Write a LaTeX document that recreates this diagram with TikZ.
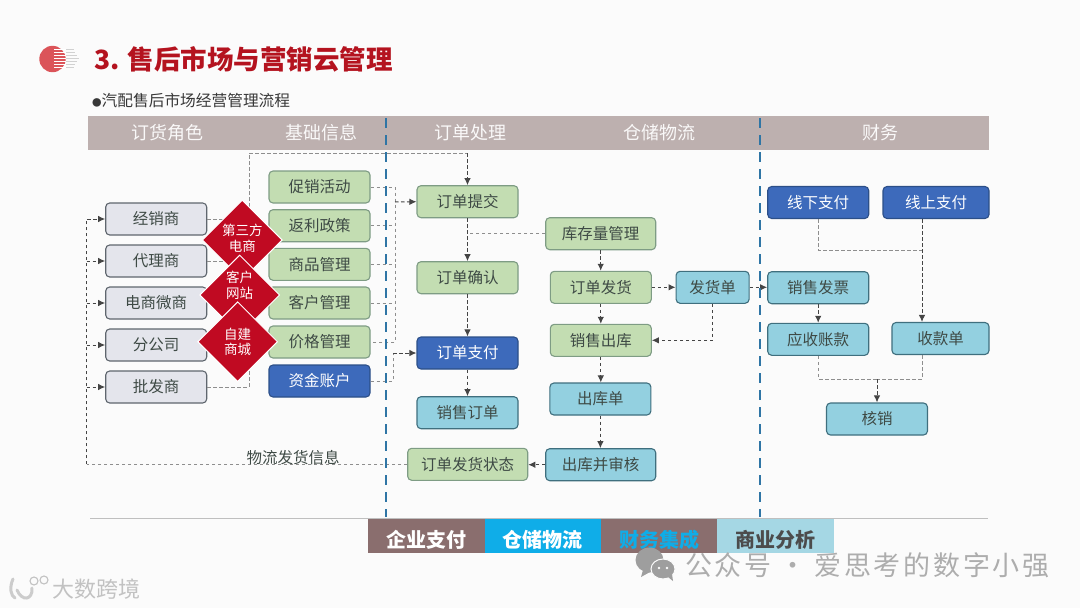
\documentclass[tikz,border=0pt]{standalone}
\usepackage{fontspec}
\setmainfont{Noto Sans CJK SC}
\usetikzlibrary{shapes.geometric,arrows.meta,calc}
\definecolor{bgc}{HTML}{FBFBFB}
\definecolor{bandc}{HTML}{BDB0AF}
\definecolor{greenf}{HTML}{C3DDB2}
\definecolor{greend}{HTML}{7E9C84}
\definecolor{grayf}{HTML}{E4E5EC}
\definecolor{grayd}{HTML}{5F666E}
\definecolor{bluef}{HTML}{3D6ABB}
\definecolor{blued}{HTML}{2C4F88}
\definecolor{cyanf}{HTML}{93D0E0}
\definecolor{cyand}{HTML}{3F6F7E}
\definecolor{redd}{HTML}{C00A22}
\definecolor{titlec}{HTML}{B4131F}
\definecolor{logoc}{HTML}{DB5459}
\definecolor{txt}{HTML}{3E4A45}
\definecolor{lanec}{HTML}{2F75A5}
\definecolor{linec}{HTML}{454545}
\definecolor{lineg}{HTML}{8E8E8E}
\definecolor{tabb}{HTML}{8A6E6E}
\definecolor{tabc}{HTML}{0FADE8}
\definecolor{tabl}{HTML}{A5D7E4}
\definecolor{wm}{HTML}{ADADAD}
\tikzset{
  boxbase/.style={rounded corners=4pt,line width=1.1pt,inner sep=0pt,minimum height=32pt,font=\fontsize{15.5}{18}\selectfont,text=txt},
  greenbox/.style={boxbase,fill=greenf,draw=greend,minimum width=101pt},
  graybox/.style={boxbase,fill=grayf,draw=grayd,minimum width=101pt},
  bluebox/.style={boxbase,fill=bluef,draw=blued,minimum width=101pt,text=white},
  cyanbox/.style={boxbase,fill=cyanf,draw=cyand,minimum width=101pt},
  gemtext/.style={text=white,align=center,inner sep=0pt,font=\fontsize{13.5}{15.5}\selectfont},
  gem/.style={gemtext,diamond,aspect=1,fill=redd,draw=white,line width=1pt,minimum width=80pt,minimum height=80pt},
  headtext/.style={text=white!92!bandc,font=\fontsize{18}{20}\selectfont,inner sep=0pt},
  tab/.style={minimum width=116.5pt,minimum height=33.7pt,inner sep=0pt,text height=24pt,text depth=2pt,font=\bfseries\fontsize{20}{22}\selectfont},
  flow/.style={line width=1pt,draw=linec,dash pattern=on 3.5pt off 2.5pt,-{Latex[length=7pt,width=6.5pt]}},
  plainflow/.style={line width=1pt,draw=lineg,dash pattern=on 3.5pt off 2.5pt},
  lane/.style={line width=2pt,draw=lanec,dash pattern=on 10pt off 7pt},
}
\begin{document}
\begin{tikzpicture}[x=1pt,y=-1pt]
\path[use as bounding box,fill=bgc] (0,0) rectangle (1080,608);
% logo
\fill[logoc] (52.5,59) circle (13.2);
\foreach \yy in {49,52,55,58,61,64,67}{
  \draw[white,line width=.9pt] (54,{\yy+.5}) -- (66,{\yy+.5});
  \draw[black!18,line width=.8pt] (66,{\yy+.5}) -- ({79-abs(\yy-58)*.6},{\yy+.5});
}
% title
\node[anchor=west,inner sep=0pt,text=titlec,font=\bfseries\fontsize{26.5}{30}\selectfont] (title) at (94,59) {3. 售后市场与营销云管理};
\node[anchor=west,inner sep=0pt,text=black!78,font=\fontsize{15.7}{18}\selectfont] (sub) at (92,100) {{\fontsize{9.5}{10}\selectfont ●}汽配售后市场经营管理流程};
% band
\node[fill=bandc,minimum width=901pt,minimum height=34pt,inner sep=0pt,anchor=north west] (band) at (88,116) {};
\node[headtext] (h1) at (167,133) {订货角色};
\node[headtext] (h2) at (321,133) {基础信息};
\node[headtext] (h3) at (470,133) {订单处理};
\node[headtext] (h4) at (659,133) {仓储物流};
\node[headtext] (h5) at (880,133) {财务};
% boxes left
\node[graybox] (r1) at (156.2,219) {经销商};
\node[graybox] (r2) at (156.2,261) {代理商};
\node[graybox] (r3) at (156.2,303) {电商微商};
\node[graybox] (r4) at (156.2,345) {分公司};
\node[graybox] (r5) at (156.2,387) {批发商};
\node[greenbox] (b1) at (319.5,187) {促销活动};
\node[greenbox] (b2) at (319.5,225.7) {返利政策};
\node[greenbox] (b3) at (319.5,264.3) {商品管理};
\node[greenbox] (b4) at (319.5,303) {客户管理};
\node[greenbox] (b5) at (319.5,342) {价格管理};
\node[bluebox] (b6) at (319.5,381) {资金账户};
% order column
\node[greenbox] (o1) at (467.5,201.7) {订单提交};
\node[greenbox] (o2) at (467.5,277.7) {订单确认};
\node[bluebox] (o3) at (467.5,353) {订单支付};
\node[cyanbox] (o4) at (467.5,412.7) {销售订单};
\node[greenbox,minimum width=120pt] (o5) at (467.7,464.3) {订单发货状态};
% warehouse column
\node[greenbox,minimum width=110pt] (w1) at (600.7,233.7) {库存量管理};
\node[greenbox] (w2) at (600.8,287.3) {订单发货};
\node[greenbox] (w3) at (600.8,340.3) {销售出库};
\node[cyanbox] (w4) at (600.4,399) {出库单};
\node[cyanbox,minimum width=110pt] (w5) at (600.7,464.7) {出库并审核};
\node[cyanbox,minimum width=73pt] (w6) at (712.6,287.3) {发货单};
% finance
\node[bluebox] (f1) at (818.2,202.5) {线下支付};
\node[bluebox,minimum width=106pt] (f2) at (936,202.5) {线上支付};
\node[cyanbox] (f3) at (818.2,287.7) {销售发票};
\node[cyanbox] (f4) at (818.2,339.3) {应收账款};
\node[cyanbox,minimum width=97pt] (f5) at (940.5,338.5) {收款单};
\node[cyanbox] (f6) at (877,419) {核销};
% junction points
\coordinate (topL) at (249,153);
\coordinate (topR) at (467.5,153);
\coordinate (busL) at (86.5,464.3);
\coordinate (busG) at (395,202);
\coordinate (payJ) at (393,353);
\coordinate (sumJ) at (877,379);
\coordinate (payT) at (922,250);
% dashed connectors: left side
\draw[plainflow] (r1.east) -- ++(20,0);
\draw[plainflow] (r2.east) -- ++(20,0);
\draw[plainflow] (r5.east) -| (topL) -- (topR);
\draw[flow] (topR) -- (o1.north);
\draw[plainflow] (o5.west) -- (busL);
\draw[flow] (busL) |- (r1.west);
\draw[flow] (busL |- r2.west) -- (r2.west);
\draw[flow] (busL |- r3.west) -- (r3.west);
\draw[flow] (busL |- r4.west) -- (r4.west);
\draw[flow] (busL |- r5.west) -- (r5.west);
% basic info to orders
\draw[plainflow] (b1.east) -| (busG |- b5.east) -- (b5.east);
\draw[plainflow] (b2.east) -- (busG |- b2.east);
\draw[plainflow] (b3.east) -- (busG |- b3.east);
\draw[plainflow] (b4.east) -- (busG |- b4.east);
\draw[flow] (busG) -- (o1.west);
\draw[plainflow] (b6.east) -| (payJ);
\draw[flow] (payJ) -- (o3.west);
% order flow
\draw[flow] (o1.south) -- (o2.north);
\draw[flow] (o2.south) -- (o3.north);
\draw[flow] (o3.south) -- (o4.north);
\draw[plainflow] (w1.west) -- (o1.south |- w1.west);
% warehouse flow
\draw[flow] (w1.south) -- (w1.south |- w2.north);
\draw[flow] (w2.south) -- (w2.south |- w3.north);
\draw[flow] (w3.south) -- (w3.south |- w4.north);
\draw[flow] (w4.south) -- (w4.south |- w5.north);
\draw[flow] (w5.west) -- (o5.east |- w5.west);
\draw[flow] (w2.east) -- (w6.west);
\draw[flow] (w6.east) -- (f3.west |- w6.east);
\draw[flow] (w6.south) |- (w3.east);
% finance flow
\draw[plainflow] (f1.south) |- (payT);
\draw[flow] (payT |- f2.south) -- (payT |- f5.north);
\draw[flow] (f3.south) -- (f4.north);
\draw[plainflow] (f4.south) |- (sumJ);
\draw[plainflow] (payT |- f5.south) |- (sumJ);
\draw[flow] (sumJ) -- (f6.north);
% gems
\node[gem] (d1) at (242.3,240) {};
\node[gemtext] (d1t) at (242.3,238.5) {第三方\\电商};
\node[gem] (d2) at (239.7,295) {};
\node[gemtext] (d2t) at (239.7,285.5) {客户\\网站};
\node[gem] (d3) at (237.7,341.7) {};
\node[gemtext] (d3t) at (237.7,342) {自建\\商城};
% label
\node[inner sep=0pt,text=txt,font=\fontsize{15.5}{18}\selectfont] (lab) at (293,458) {物流发货信息};
% lanes
\coordinate (l1a) at (385.5,118);
\coordinate (l1b) at (385.5,517);
\coordinate (l2a) at (759.5,118);
\coordinate (l2b) at (759.5,517);
\draw[lane] (l1a) -- (l1b);
\draw[lane] (l2a) -- (l2b);
% bottom rule and tabs
\coordinate (ra) at (90,518.5);
\coordinate (rb) at (988,518.5);
\draw[black!25,line width=1pt] (ra) -- (rb);
\node[tab,fill=tabb,text=white,anchor=north west] (t1) at (368,519) {企业支付};
\node[tab,fill=tabc,text=white,anchor=north west] (t2) at (484.5,519) {仓储物流};
\node[tab,fill=tabb,text=tabc,anchor=north west] (t3) at (601,519) {财务集成};
\node[tab,fill=tabl,text=black!70,anchor=north west] (t4) at (717,519) {商业分析};
% watermarks
\fill[black!38] (649.5,560) ellipse (14 and 12.5);
\fill[black!38] (643,570) -- (641,577) -- (650,572) -- cycle;
\fill[black!38,draw=bgc,line width=1pt] (663,569) ellipse (12 and 10);
\fill[black!38] (668,577) -- (673,581) -- (672,574) -- cycle;
\fill[bgc] (659,568) circle (1.3);
\fill[bgc] (667,568) circle (1.3);
\node[anchor=west,inner sep=0pt,text=wm,font=\fontsize{27}{30}\selectfont\addfontfeature{LetterSpace=10}] (wm1) at (685,565) {公众号\hspace{8pt}·\hspace{8pt}爱思考的数字小强};
\draw[black!20,line width=3pt,line cap=round] (13,579) .. controls (9,588) and (11,596) .. (15,598);
\draw[black!20,line width=3pt,line cap=round] (32,588) .. controls (33,600) and (22,602) .. (17,590);
\draw[black!24,line width=1.1pt] (34,581) circle (4);
\draw[black!24,line width=1.1pt] (44,580) circle (4);
\node[anchor=west,inner sep=0pt,text=black!24,font=\fontsize{22}{24}\selectfont] (wm2) at (52,589) {大数跨境};
\end{tikzpicture}
\end{document}
